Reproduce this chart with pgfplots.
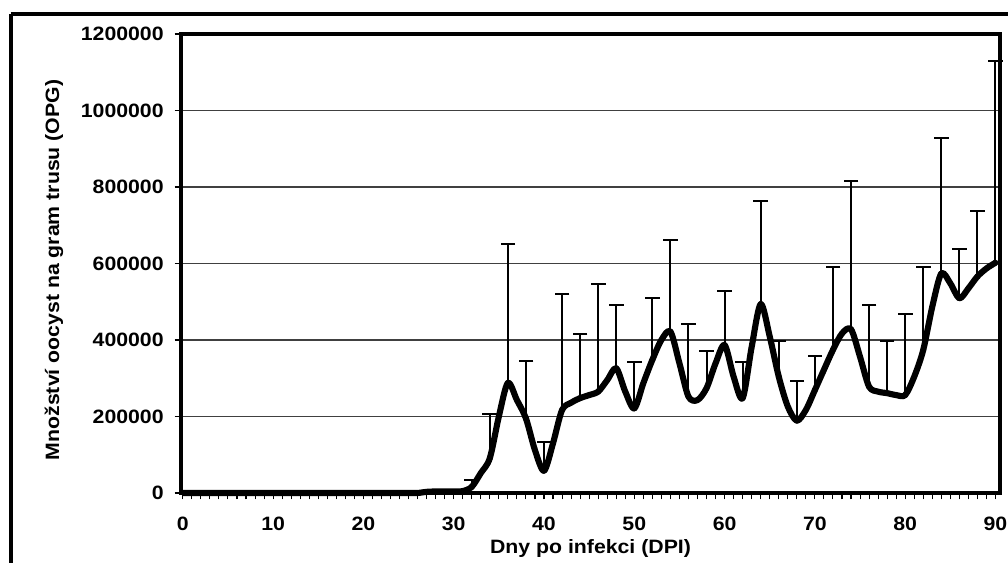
\documentclass[border=0pt]{standalone}
\usepackage{fontspec}
\setmainfont{Liberation Sans}[FakeStretch=1.1]
\usepackage{pgfplots}
\pgfplotsset{compat=1.18}
\usepackage{pgfplotstable}

\pgfplotstableread{
day opg
0 0
1 0
2 0
3 0
4 0
5 0
6 0
7 0
8 0
9 0
10 0
11 0
12 0
13 0
14 0
15 0
16 0
17 0
18 0
19 0
20 0
21 0
22 0
23 0
24 0
25 0
26 0
27 3000
28 4000
29 4000
30 4000
31 5000
32 16000
33 52000
34 91000
35 200000
36 288000
37 243000
38 195000
39 112000
40 58000
41 130000
42 217000
43 236000
44 248000
45 256000
46 265000
47 295000
48 326000
49 265000
50 221000
51 287000
52 348000
53 400000
54 422000
55 339000
56 252000
57 243000
58 274000
59 339000
60 387000
61 304000
62 248000
63 382000
64 494000
65 409000
66 304000
67 226000
68 189000
69 217000
70 269000
71 322000
72 374000
73 417000
74 428000
75 356000
76 278000
77 265000
78 261000
79 256000
80 256000
81 304000
82 374000
83 487000
84 574000
85 548000
86 509000
87 535000
88 566000
89 587000
90 602000
}\meandata

\pgfplotstableread{
day opg err top
32 16000 18000 34000
34 91000 115000 206000
36 288000 362000 650000
38 195000 151000 346000
40 58000 76000 134000
42 217000 302000 519000
44 248000 167000 415000
46 265000 281000 546000
48 326000 166000 492000
50 221000 121000 342000
52 348000 161000 509000
54 422000 239000 661000
56 252000 189000 441000
58 274000 98000 372000
60 387000 142000 529000
62 248000 94000 342000
64 494000 270000 764000
66 304000 94000 398000
68 189000 105000 294000
70 269000 89000 358000
72 374000 218000 592000
74 428000 388000 816000
76 278000 213000 491000
78 261000 137000 398000
80 256000 211000 467000
82 374000 218000 592000
84 574000 353000 927000
86 509000 129000 638000
88 566000 172000 738000
90 602000 528000 1130000
}\errdata

\begin{document}
\begin{tikzpicture}
\clip (0,0) rectangle (756pt,422.25pt);
\draw[line width=3pt] (7.875pt,411.4pt) -- (800pt,411.4pt);
\draw[line width=3pt] (7.875pt,411.4pt) -- (7.875pt,-20pt);
\begin{axis}[
  at={(135.75pt,52.5pt)}, anchor=south west,
  scale only axis, width=614.25pt, height=344.25pt,
  xmin=-0.2, xmax=90.5, ymin=0, ymax=1200000,
  axis line style={line width=3pt, black},
  xtick={0,10,...,90}, minor x tick num=9,
  ytick={0,200000,...,1200000},
  xtick pos=bottom, ytick pos=left,
  scaled y ticks=false,
  yticklabel style={/pgf/number format/fixed, /pgf/number format/1000 sep={}, anchor=east, inner sep=0pt, xshift=-8pt},
  xticklabel style={anchor=base, inner sep=0pt, yshift=-23pt},
  /pgf/number format/assume math mode=true,
  ticklabel style={font=\fontsize{14.5pt}{16pt}\selectfont\bfseries},
  tick align=outside,
  tick style={black, line width=0.8pt},
  major tick length=4.8pt, minor tick length=4.8pt,
  ymajorgrids, grid style={black!75, line width=0.8pt},
  xlabel={Dny po infekci (DPI)},
  ylabel={Množství oocyst na gram trusu (OPG)},
  label style={font=\fontsize{14.5pt}{16pt}\selectfont\bfseries},
  xlabel style={at={(axis description cs:0.5,0)}, anchor=center, yshift=-42pt},
  ylabel style={at={(axis description cs:-0.155,0.486)}, anchor=center},
  clip=false,
]
\addplot[black, only marks, mark=none, forget plot,
  error bars/.cd, y dir=plus, y explicit, error mark=none,
  error bar style={black, solid, line width=1.5pt}]
  table[x=day, y=opg, y error=err] {\errdata};
\addplot[black, only marks, mark=-, mark size=5.5pt, line width=1.5pt, forget plot]
  table[x=day, y=top] {\errdata};
\addplot[black, line width=4.6pt, smooth, tension=0.5, mark=none, line join=round]
  table[x=day, y=opg] {\meandata};
\end{axis}
\end{tikzpicture}
\end{document}
